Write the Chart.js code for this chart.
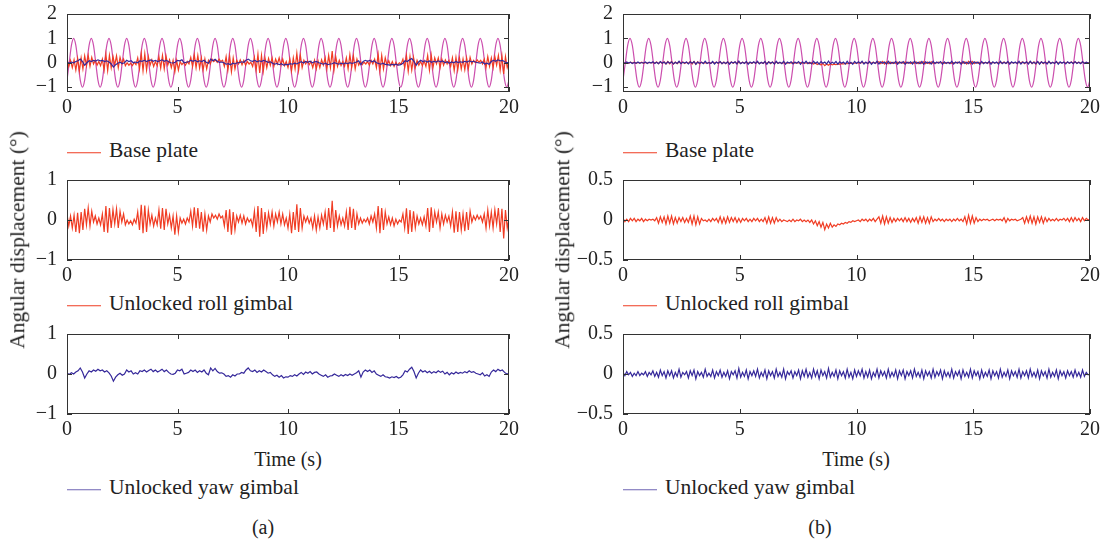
<!DOCTYPE html>
<html>
<head>
<meta charset="utf-8">
<script src="https://cdn.jsdelivr.net/npm/chart.js@4.4.1/dist/chart.umd.min.js"></script>
<style>
  html, body { margin: 0; padding: 0; background: #fff; }
  body { width: 1105px; height: 541px; position: relative; overflow: hidden;
         font-family: "Liberation Serif", "DejaVu Serif", serif; color: #222; }
  canvas { position: absolute; }
  .txt { position: absolute; font-size: 20px; line-height: 1; white-space: nowrap; transform: translate(-50%, -50%); }
  .leg { position: absolute; font-size: 21.5px; line-height: 1; white-space: nowrap; transform: translateY(-50%); }
  .leg .ln { display: inline-block; width: 34px; height: 0; border-top: 1.5px solid; vertical-align: middle; margin-right: 8px; }
  .ytitle { position: absolute; font-size: 21.5px; line-height: 1; white-space: nowrap; transform: translate(-50%, -50%) rotate(-90deg); }
</style>
</head>
<body>

<canvas id="a1" width="523" height="118" style="left:0px;top:4px"></canvas>
<canvas id="a2" width="523" height="120" style="left:0px;top:170px"></canvas>
<canvas id="a3" width="523" height="120" style="left:0px;top:324px"></canvas>
<canvas id="b1" width="548" height="118" style="left:556px;top:4px"></canvas>
<canvas id="b2" width="548" height="120" style="left:556px;top:170px"></canvas>
<canvas id="b3" width="548" height="120" style="left:556px;top:324px"></canvas>

<div class="ytitle" style="left:18px;top:240px">Angular displacement (°)</div>
<div class="ytitle" style="left:563px;top:240px">Angular displacement (°)</div>

<div class="leg" style="left:67px;top:151px"><span class="ln" style="color:#f03c23"></span>Base plate</div>
<div class="leg" style="left:67px;top:304px"><span class="ln" style="color:#f03c23"></span>Unlocked roll gimbal</div>
<div class="leg" style="left:67px;top:488px"><span class="ln" style="color:#6f66b4"></span>Unlocked yaw gimbal</div>
<div class="leg" style="left:623px;top:151px"><span class="ln" style="color:#f03c23"></span>Base plate</div>
<div class="leg" style="left:623px;top:304px"><span class="ln" style="color:#f03c23"></span>Unlocked roll gimbal</div>
<div class="leg" style="left:623px;top:488px"><span class="ln" style="color:#6f66b4"></span>Unlocked yaw gimbal</div>

<div class="txt" style="left:288px;top:459px">Time (s)</div>
<div class="txt" style="left:856px;top:459px">Time (s)</div>
<div class="txt" style="left:263px;top:527px">(a)</div>
<div class="txt" style="left:820px;top:527px">(b)</div>

<script>
// tick labels
const timeTicks = [0, 5, 10, 15, 20];
const baseTicks = [-1, 0, 1, 2];
const gimbalTicksA = [-1, 0, 1];
const gimbalTicksB = [-0.5, 0, 0.5];

// sample steps (s)
const basePlateStep = 0.1;
const gimbalStep = 0.08;
const yawAStep = 0.1;

// base plate excitation, one row per cycle
const basePlate = [
  -0.71, 0, 0.71, 1, 0.71, 0, -0.71, -1,
  -0.71, 0, 0.71, 1, 0.71, 0, -0.71, -1,
  -0.71, 0, 0.71, 1, 0.71, 0, -0.71, -1,
  -0.71, 0, 0.71, 1, 0.71, 0, -0.71, -1,
  -0.71, 0, 0.71, 1, 0.71, 0, -0.71, -1,
  -0.71, 0, 0.71, 1, 0.71, 0, -0.71, -1,
  -0.71, 0, 0.71, 1, 0.71, 0, -0.71, -1,
  -0.71, 0, 0.71, 1, 0.71, 0, -0.71, -1,
  -0.71, 0, 0.71, 1, 0.71, 0, -0.71, -1,
  -0.71, 0, 0.71, 1, 0.71, 0, -0.71, -1,
  -0.71, 0, 0.71, 1, 0.71, 0, -0.71, -1,
  -0.71, 0, 0.71, 1, 0.71, 0, -0.71, -1,
  -0.71, 0, 0.71, 1, 0.71, 0, -0.71, -1,
  -0.71, 0, 0.71, 1, 0.71, 0, -0.71, -1,
  -0.71, 0, 0.71, 1, 0.71, 0, -0.71, -1,
  -0.71, 0, 0.71, 1, 0.71, 0, -0.71, -1,
  -0.71, 0, 0.71, 1, 0.71, 0, -0.71, -1,
  -0.71, 0, 0.71, 1, 0.71, 0, -0.71, -1,
  -0.71, 0, 0.71, 1, 0.71, 0, -0.71, -1,
  -0.71, 0, 0.71, 1, 0.71, 0, -0.71, -1,
  -0.71, 0, 0.71, 1, 0.71, 0, -0.71, -1,
  -0.71, 0, 0.71, 1, 0.71, 0, -0.71, -1,
  -0.71, 0, 0.71, 1, 0.71, 0, -0.71, -1,
  -0.71, 0, 0.71, 1, 0.71, 0, -0.71, -1,
  -0.71, 0, 0.71, 1, 0.71, 0, -0.71, -1,
  -0.71
];

// (a) unlocked roll gimbal, 2 s per row
const rollA = [
  0.15, -0.15, 0.1, -0.2, 0.12, -0.3, 0.18, -0.33, 0.2, -0.25, 0.28, -0.12, 0.3, -0.15, 0.22, -0.05, 0.1, -0.1, 0.05, -0.12, 0.15, -0.3, 0.35, -0.32, 0.3,
  -0.2, 0.26, -0.1, 0.28, -0.2, 0.22, -0.05, 0.15, -0.12, 0.0, -0.1, -0.02, -0.12, 0.02, -0.08, 0.2, -0.25, 0.38, -0.33, 0.36, -0.3, 0.25, -0.1, 0.12, -0.15,
  0.05, -0.12, 0.25, -0.22, 0.3, -0.25, 0.28, -0.1, 0.12, -0.2, 0.1, -0.37, 0.1, -0.3, 0.05, -0.08, 0.02, -0.1, 0.05, -0.05, 0.22, -0.15, 0.32, -0.2, 0.3,
  -0.22, 0.2, -0.29, 0.15, -0.25, 0.1, -0.05, 0.15, 0.05, 0.12, 0.02, 0.15, 0.05, 0.1, -0.15, 0.25, -0.3, 0.27, -0.37, 0.2, -0.25, 0.1, -0.05, 0.12, -0.08,
  0.1, -0.1, 0.05, -0.05, 0.02, -0.15, 0.22, -0.3, 0.35, -0.42, 0.3, -0.35, 0.2, -0.2, 0.18, -0.1, 0.2, -0.15, 0.15, -0.05, 0.2, -0.1, 0.15, -0.12, 0.05,
  -0.2, 0.15, -0.33, 0.2, -0.25, 0.39, -0.3, 0.3, -0.2, 0.1, -0.05, 0.08, -0.08, 0.05, -0.2, 0.1, -0.25, 0.08, -0.2, 0.12, -0.1, 0.2, -0.25, 0.3, -0.2,
  0.48, -0.3, 0.25, -0.15, 0.1, -0.12, 0.05, -0.15, 0.2, -0.25, 0.33, -0.2, 0.28, -0.25, 0.15, -0.1, 0.05, -0.08, 0.02, -0.05, 0.05, -0.1, 0.1, -0.05, 0.15,
  -0.2, 0.35, -0.33, 0.3, -0.25, 0.2, -0.1, 0.08, -0.12, 0.05, -0.15, 0.02, -0.1, 0.0, -0.05, 0.15, -0.2, 0.29, -0.35, 0.25, -0.3, 0.22, -0.2, 0.1, -0.1,
  0.05, -0.12, 0.08, -0.15, 0.3, -0.3, 0.32, -0.2, 0.2, -0.05, 0.2, -0.2, 0.15, -0.1, 0.12, -0.05, 0.1, -0.15, 0.2, -0.32, 0.22, -0.3, 0.2, -0.25, 0.15,
  -0.28, 0.2, -0.25, 0.22, -0.05, 0.1, 0.0, 0.12, 0.02, 0.1, -0.05, 0.15, -0.2, 0.25, -0.15, 0.2, -0.2, 0.25, -0.1, 0.3, -0.3, 0.28, -0.46, 0.25, -0.2,
  0.05
];

// (a) unlocked yaw gimbal, 1 s per row
const yawA = [
  0.02, -0.01, 0.03, 0.0, 0.05, 0.08, 0.15, 0.05, -0.1, 0.0,
  0.08, 0.05, 0.1, 0.07, 0.12, 0.08, 0.1, 0.05, 0.08, 0.03,
  -0.05, -0.18, -0.08, -0.02, 0.02, -0.03, 0.0, 0.1, 0.05, 0.08,
  0.0, 0.03, 0.0, 0.08, 0.06, 0.1, 0.05, 0.09, 0.12, 0.06,
  0.1, 0.05, 0.08, 0.12, 0.06, 0.1, 0.04, 0.0, -0.01, 0.02,
  0.1, 0.08, 0.12, 0.0, 0.02, 0.04, 0.1, 0.06, 0.1, 0.04,
  0.08, 0.05, 0.1, 0.02, -0.02, 0.15, 0.08, 0.14, 0.06, 0.02,
  0.03, 0.0, -0.06, -0.04, -0.08, -0.02, -0.05, 0.0, 0.0, 0.04,
  0.02, 0.1, 0.15, 0.08, 0.06, 0.1, 0.04, 0.08, 0.05, 0.1,
  0.06, 0.02, 0.04, -0.02, -0.06, -0.03, -0.08, -0.04, -0.1, -0.07,
  -0.08, -0.04, -0.06, -0.02, -0.05, 0.0, 0.04, -0.01, 0.05, 0.02,
  0.06, 0.0, 0.04, 0.05, 0.0, -0.03, -0.06, -0.02, -0.08, -0.05,
  -0.04, 0.0, -0.03, -0.06, -0.02, -0.05, -0.01, -0.04, 0.0, -0.03,
  0.0, 0.03, 0.08, -0.08, 0.05, 0.1, 0.06, 0.1, 0.04, 0.08,
  0.0, -0.03, -0.06, -0.02, -0.07, -0.08, -0.1, -0.07, -0.09, -0.06,
  -0.1, -0.08, -0.02, 0.08, 0.05, 0.12, 0.17, 0.06, -0.1, 0.02,
  0.1, 0.05, 0.08, 0.03, 0.07, 0.02, 0.06, 0.03, 0.08, 0.04,
  0.07, 0.0, 0.04, -0.02, 0.03, 0.0, 0.05, 0.01, 0.04, 0.02,
  0.06, 0.03, 0.08, 0.04, 0.06, 0.02, 0.0, -0.02, 0.03, -0.05,
  -0.02, -0.06, 0.05, 0.1, 0.06, 0.12, 0.08, 0.1, 0.04, 0.0,
  0.02
];

// (b) unlocked roll gimbal, 2 s per row
const rollB = [
  0.02, -0.02, 0.01, -0.02, 0.02, -0.01, 0.02, -0.02, 0.01, -0.01, 0.02, -0.02, 0.01, -0.01, 0.01, 0.0, 0.01, -0.01, 0.03, -0.04, 0.04, -0.03, 0.04, -0.05, 0.05,
  -0.04, 0.05, -0.05, 0.03, -0.04, 0.03, -0.02, 0.03, -0.03, 0.02, -0.03, 0.05, -0.05, 0.05, -0.06, 0.04, -0.05, 0.02, -0.01, 0.0, -0.02, 0.01, -0.02, 0.02, -0.01,
  0.02, -0.03, 0.04, -0.04, 0.03, -0.04, 0.04, -0.03, 0.03, -0.02, 0.03, -0.03, 0.02, -0.03, 0.02, -0.01, 0.02, -0.02, 0.01, -0.02, 0.02, -0.01, 0.02, -0.02, 0.01,
  -0.02, 0.03, -0.04, 0.04, -0.04, 0.03, -0.04, 0.03, -0.02, 0.01, -0.02, 0.0, -0.01, -0.02, 0.0, -0.02, 0.01, -0.02, 0.0, -0.01, 0.01, -0.02, 0.0, -0.02, 0.0,
  -0.03, 0.0, -0.05, -0.01, -0.07, -0.02, -0.09, -0.03, -0.12, -0.05, -0.1, -0.04, -0.09, -0.06, -0.08, -0.05, -0.06, -0.04, -0.05, -0.03, -0.04, -0.02, -0.03, -0.01, -0.02,
  -0.01, 0.0, -0.02, 0.01, -0.01, 0.01, -0.02, 0.01, -0.01, 0.02, -0.02, 0.01, 0.04, -0.04, 0.05, -0.05, 0.04, -0.04, 0.03, -0.03, 0.02, -0.02, 0.02, -0.01, 0.02,
  -0.02, 0.03, -0.02, 0.02, -0.03, 0.02, -0.02, 0.03, -0.04, 0.04, -0.03, 0.04, -0.04, 0.03, -0.04, 0.04, -0.02, 0.01, -0.01, 0.02, -0.01, 0.01, -0.02, 0.01, -0.01,
  0.01, -0.02, 0.01, -0.01, 0.02, -0.01, 0.01, -0.02, 0.04, -0.05, 0.06, -0.04, 0.05, -0.04, 0.03, -0.02, 0.01, -0.01, 0.01, 0.0, 0.01, -0.01, 0.0, 0.01, -0.01,
  0.01, 0.0, 0.01, -0.01, 0.03, -0.03, 0.02, -0.01, 0.01, 0.0, 0.01, -0.01, 0.0, 0.01, 0.03, -0.04, 0.04, -0.03, 0.05, -0.04, 0.04, -0.05, 0.04, -0.03, 0.04,
  -0.04, 0.03, -0.02, 0.02, -0.01, 0.01, -0.01, 0.02, -0.01, 0.01, 0.0, 0.02, -0.01, 0.02, -0.02, 0.03, -0.02, 0.03, -0.01, 0.02, -0.02, 0.03, -0.01, 0.02, 0.0,
  0.01
];

// (b) unlocked yaw gimbal, 2 s per row
const yawB = [
  0.02, -0.02, 0.03, -0.01, 0.02, -0.03, 0.01, -0.02, 0.03, -0.02, 0.01, -0.01, 0.03, -0.03, 0.02, -0.01, 0.04, -0.03, 0.02, -0.04, 0.05, -0.02, 0.03, -0.05, 0.04,
  -0.02, 0.04, -0.05, 0.02, -0.03, 0.06, -0.04, 0.02, -0.01, 0.03, -0.05, 0.04, -0.02, 0.05, -0.06, 0.03, -0.02, 0.02, -0.04, 0.06, -0.03, 0.01, -0.03, 0.05, -0.05,
  0.03, -0.02, 0.05, -0.04, 0.02, -0.03, 0.04, -0.06, 0.03, -0.01, 0.04, -0.05, 0.07, -0.04, 0.02, -0.03, 0.05, -0.06, 0.03, -0.02, 0.04, -0.03, 0.06, -0.05, 0.02,
  -0.03, 0.05, -0.06, 0.04, -0.02, 0.03, -0.05, 0.06, -0.03, 0.02, -0.04, 0.06, -0.06, 0.03, -0.01, 0.04, -0.05, 0.03, -0.02, 0.05, -0.06, 0.04, -0.03, 0.06, -0.04,
  0.02, -0.05, 0.06, -0.03, 0.04, -0.06, 0.05, -0.02, 0.03, -0.05, 0.07, -0.04, 0.02, -0.03, 0.05, -0.06, 0.04, -0.02, 0.03, -0.05, 0.06, -0.04, 0.02, -0.06, 0.05,
  -0.03, 0.04, -0.02, 0.06, -0.05, 0.03, -0.04, 0.05, -0.06, 0.02, -0.03, 0.06, -0.05, 0.04, -0.02, 0.03, -0.05, 0.06, -0.04, 0.02, -0.03, 0.05, -0.06, 0.04, -0.02,
  0.05, -0.06, 0.03, -0.02, 0.04, -0.05, 0.06, -0.03, 0.02, -0.04, 0.05, -0.06, 0.04, -0.02, 0.03, -0.05, 0.06, -0.04, 0.03, -0.02, 0.05, -0.06, 0.04, -0.03, 0.02,
  -0.04, 0.06, -0.05, 0.03, -0.02, 0.04, -0.06, 0.05, -0.03, 0.02, -0.04, 0.06, -0.05, 0.04, -0.02, 0.03, -0.06, 0.05, -0.04, 0.02, -0.03, 0.05, -0.06, 0.04, -0.02,
  0.03, -0.05, 0.06, -0.04, 0.02, -0.03, 0.05, -0.06, 0.04, -0.02, 0.03, -0.04, 0.06, -0.05, 0.03, -0.02, 0.04, -0.05, 0.06, -0.03, 0.02, -0.04, 0.05, -0.06, 0.04,
  -0.02, 0.03, -0.05, 0.06, -0.04, 0.02, -0.03, 0.05, -0.06, 0.04, -0.02, 0.03, -0.05, 0.04, -0.02, 0.03, -0.04, 0.05, -0.03, 0.02, -0.04, 0.05, -0.03, 0.02, -0.01,
  0.0
];

const MAGENTA = "#cc4fae";
const RED = "#f03c23";
const BLUE = "#35289a";
const FONT = { family: "'Liberation Serif', 'DejaVu Serif', serif", size: 20 };

// sample index -> time
function toPoints(values, step) {
  return values.map((v, i) => ({ x: Math.round(i * step * 100) / 100, y: v }));
}

// box around the axes with inward ticks on all four sides
const framePlugin = {
  id: "frame",
  afterDatasetsDraw(chart) {
    const { ctx, chartArea: a } = chart;
    const x = chart.scales.x, y = chart.scales.y;
    const len = 5;
    ctx.save();
    ctx.strokeStyle = "#333";
    ctx.lineWidth = 1;
    ctx.strokeRect(a.left + 0.5, a.top + 0.5, a.right - a.left - 1, a.bottom - a.top - 1);
    ctx.beginPath();
    x.ticks.forEach((t) => {
      const px = Math.round(x.getPixelForValue(t.value)) + 0.5;
      ctx.moveTo(px, a.bottom); ctx.lineTo(px, a.bottom - len);
      ctx.moveTo(px, a.top); ctx.lineTo(px, a.top + len);
    });
    y.ticks.forEach((t) => {
      const py = Math.round(y.getPixelForValue(t.value)) + 0.5;
      ctx.moveTo(a.left, py); ctx.lineTo(a.left + len, py);
      ctx.moveTo(a.right, py); ctx.lineTo(a.right - len, py);
    });
    ctx.stroke();
    ctx.restore();
  },
};

function panel(id, series, yMin, yMax, yTicks) {
  const datasets = series.map((s) => ({
    data: toPoints(s.values, s.step),
    borderColor: s.color,
    borderWidth: 1.2,
    pointRadius: 0,
    tension: 0,
    cubicInterpolationMode: s.smooth ? "monotone" : "default",
    order: s.order,
    fill: false,
  }));

  new Chart(document.getElementById(id), {
    type: "line",
    data: { datasets: datasets },
    plugins: [framePlugin],
    options: {
      responsive: false,
      animation: false,
      devicePixelRatio: 1,
      layout: { padding: { top: 10, right: 14, bottom: 0, left: 0 } },
      plugins: { legend: { display: false }, tooltip: { enabled: false } },
      scales: {
        x: {
          type: "linear",
          min: 0,
          max: 20,
          afterBuildTicks: (s) => { s.ticks = timeTicks.map((v) => ({ value: v })); },
          afterFit: (s) => { s.height = 30; s.paddingLeft = 0; s.paddingRight = 0; },
          grid: { display: false, drawTicks: false },
          border: { display: false },
          ticks: { font: FONT, color: "#222", padding: 4, maxRotation: 0, autoSkip: false },
        },
        y: {
          min: yMin,
          max: yMax,
          afterBuildTicks: (s) => { s.ticks = yTicks.map((v) => ({ value: v })); },
          afterFit: (s) => { s.width = 67; s.paddingTop = 0; s.paddingBottom = 0; },
          grid: { display: false, drawTicks: false },
          border: { display: false },
          ticks: {
            font: FONT,
            color: "#222",
            padding: 10,
            autoSkip: false,
            callback: (v) => String(v).replace("-", "\u2212"),
          },
        },
      },
    },
  });
}

// (a) column
panel("a1", [
  { values: basePlate, step: basePlateStep, color: MAGENTA, smooth: true, order: 2 },
  { values: rollA, step: gimbalStep, color: RED, order: 1 },
  { values: yawA, step: yawAStep, color: BLUE, order: 0 },
], -1.2, 2, baseTicks);
panel("a2", [{ values: rollA, step: gimbalStep, color: RED, order: 0 }], -1, 1, gimbalTicksA);
panel("a3", [{ values: yawA, step: yawAStep, color: BLUE, order: 0 }], -1, 1, gimbalTicksA);

// (b) column
panel("b1", [
  { values: basePlate, step: basePlateStep, color: MAGENTA, smooth: true, order: 2 },
  { values: rollB, step: gimbalStep, color: RED, order: 1 },
  { values: yawB, step: gimbalStep, color: BLUE, order: 0 },
], -1.2, 2, baseTicks);
panel("b2", [{ values: rollB, step: gimbalStep, color: RED, order: 0 }], -0.5, 0.5, gimbalTicksB);
panel("b3", [{ values: yawB, step: gimbalStep, color: BLUE, order: 0 }], -0.5, 0.5, gimbalTicksB);
</script>
</body>
</html>
